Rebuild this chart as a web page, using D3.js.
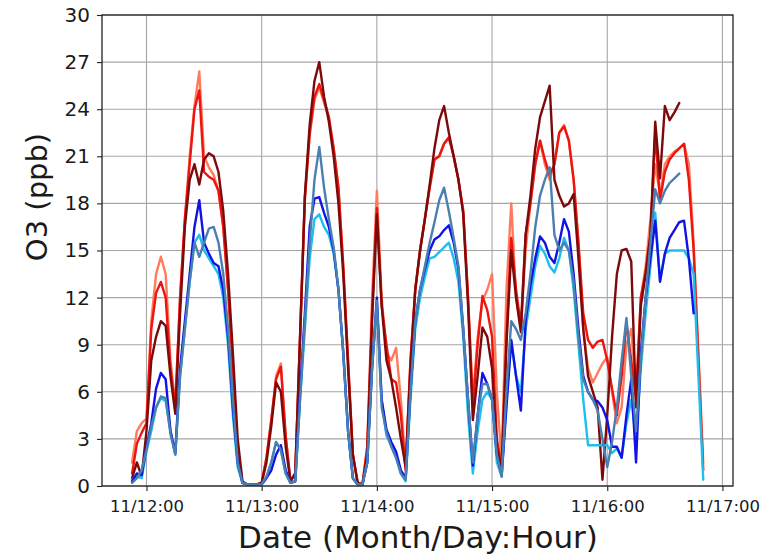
<!DOCTYPE html>
<html>
<head>
<meta charset="utf-8">
<script src="https://cdn.jsdelivr.net/npm/d3@7"></script>
<style>
  body { margin: 0; background: #fff; }
  svg { display: block; }
  text { font-family: "DejaVu Sans", sans-serif; fill: #1a1a1a; }
</style>
</head>
<body>
<svg id="chart" width="779" height="555"></svg>
<script>
// Hourly O3 samples (ppb), first sample at 11/11 21:00, last at 11/16 20:00
const firstSampleUtc = Date.UTC(2019, 10, 11, 21);

const o3DarkRed = [
  0.5, 1.5, 0.6, 3.5, 8.0, 9.5, 10.5, 10.2, 7.0, 4.6,
  11.0, 16.5, 19.5, 20.5, 19.2, 20.8, 21.2, 21.0, 20.0, 17.5,
  13.5, 8.5, 3.0, 0.3, 0.1, 0.1, 0.1, 0.2, 1.5, 3.8,
  6.6, 6.0, 2.5, 0.3, 0.8, 9.5, 18.5, 23.0, 25.8, 27.0,
  24.8, 23.2, 21.0, 18.0, 13.5, 7.5, 2.0, 0.2, 0.1, 2.0,
  10.5, 17.3, 11.5, 8.0, 6.8, 5.0, 3.0, 1.2, 7.5, 12.5,
  15.0, 17.0, 19.2, 21.5, 23.3, 24.2, 22.5, 21.0, 19.5, 17.3,
  11.5, 4.2, 7.0, 10.1, 9.5, 7.5, 2.5, 1.0, 9.0, 15.0,
  12.0, 9.8, 16.0, 18.5, 21.5, 23.5, 24.5, 25.5, 19.5, 18.5,
  17.8, 18.0, 18.6, 14.5, 10.0, 7.0, 6.0, 5.0, 0.4, 4.5,
  9.5, 13.5, 15.0, 15.1, 14.3, 5.0, 11.5, 13.5, 16.0, 23.2,
  19.6, 24.2, 23.3, 23.8, 24.4, null, null, null, null, null
];

const o3Red = [
  0.8, 2.7, 3.4, 4.0, 10.0, 12.3, 13.0, 12.0, 7.5, 5.0,
  12.0, 17.0, 20.5, 24.0, 25.2, 20.0, 19.7, 19.5, 18.8, 16.5,
  12.5, 7.5, 2.2, 0.2, 0.1, 0.1, 0.1, 0.2, 1.8, 4.2,
  6.8, 7.6, 3.2, 0.3, 0.8, 9.5, 18.3, 22.5, 24.8, 25.6,
  24.6, 23.5, 21.5, 19.0, 14.0, 8.0, 2.0, 0.2, 0.1, 2.5,
  11.0, 17.7, 11.5, 9.0, 6.8, 6.6, 4.5, 1.0, 8.0, 12.5,
  15.0, 17.0, 19.0, 20.8, 21.0, 21.8, 22.2, 21.0, 19.5, 17.5,
  12.0, 5.0, 9.0, 12.1, 11.2, 9.5, 3.0, 1.2, 9.5, 15.8,
  12.5, 10.2, 16.0, 18.0, 20.5, 22.0, 20.8, 19.8, 20.5, 22.5,
  22.9, 22.0, 19.5, 15.5, 11.0, 9.3, 8.8, 9.2, 9.3, 8.0,
  6.2, 4.5, 7.0, 10.4, 8.0, 5.5, 12.0, 13.6, 16.0, 22.5,
  18.2, 20.0, 20.8, 21.2, 21.5, 21.8, 19.5, 15.0, 8.0, 1.0
];

const o3Coral = [
  1.5, 3.5, 4.0, 4.3, 10.5, 13.5, 14.6, 13.5, 8.0, 5.2,
  12.0, 17.0, 21.0, 24.2, 26.4, 21.0, 20.3, 19.8, 18.8, 16.5,
  12.5, 7.5, 2.2, 0.2, 0.1, 0.1, 0.1, 0.2, 1.8, 4.2,
  7.0, 7.8, 3.2, 0.3, 0.8, 9.5, 18.3, 22.3, 24.6, 25.4,
  24.4, 23.4, 21.5, 19.0, 14.0, 8.0, 2.0, 0.2, 0.1, 2.5,
  12.0, 18.8, 12.0, 8.5, 8.0, 8.8, 5.5, 1.2, 8.0, 12.5,
  15.0, 17.0, 19.0, 20.8, 21.0, 21.8, 22.2, 21.0, 19.5, 17.5,
  12.0, 5.5, 9.5, 11.8, 12.5, 13.5, 6.0, 1.5, 12.5, 18.0,
  12.0, 10.0, 15.0, 18.0, 20.5, 22.0, 20.5, 19.5, 20.5, 22.5,
  23.0, 22.0, 19.5, 15.5, 10.0, 7.5, 6.6, 7.2, 7.8, 8.2,
  6.0, 4.0, 5.0, 9.0, 10.0, 6.0, 12.0, 14.0, 17.0, 20.5,
  18.5, 20.5, 21.0, 21.3, 21.5, 21.8, 20.5, 15.5, 8.5, 1.5
];

const o3Blue = [
  0.3, 0.8, 0.7, 2.5, 4.0, 6.2, 7.2, 6.8, 3.5, 2.1,
  7.5, 10.5, 13.5, 16.5, 18.2, 15.5, 14.8, 14.2, 14.0, 12.5,
  9.5, 5.0, 1.5, 0.2, 0.1, 0.1, 0.1, 0.1, 0.5, 1.0,
  2.0, 2.6, 1.0, 0.2, 0.3, 6.0, 11.0, 16.5, 18.3, 18.4,
  17.4, 16.5, 15.0, 12.5, 8.5, 3.5, 0.5, 0.1, 0.1, 1.5,
  7.5, 12.0, 5.5, 3.6, 2.8, 2.2, 1.0, 0.5, 6.0, 10.5,
  12.5, 13.8, 15.0, 15.7, 15.9, 16.3, 16.6, 15.5, 13.8, 10.0,
  5.5, 1.3, 4.5, 7.2, 6.5, 5.5, 2.0, 0.7, 5.0, 9.3,
  7.0, 4.8, 10.5, 12.8, 14.5, 15.9, 15.5, 14.6, 14.2, 15.5,
  17.0, 16.2, 13.5, 10.0, 7.0, 6.0, 5.5, 5.4, 5.0, 4.2,
  2.5, 2.5, 1.8, 4.5, 6.8, 1.5, 8.5, 12.0, 14.5, 16.9,
  13.0, 14.8, 15.8, 16.3, 16.8, 16.9, 14.5, 11.0, null, null
];

const o3SteelBlue = [
  0.2, 0.5, 1.0, 2.3, 3.8, 5.0, 5.7, 5.6, 3.3, 2.0,
  7.0, 10.0, 13.0, 15.5, 14.6, 15.5, 16.4, 16.5, 15.5, 13.5,
  10.0, 5.5, 1.5, 0.2, 0.1, 0.1, 0.1, 0.1, 0.6, 1.5,
  2.8, 2.3, 0.8, 0.2, 0.3, 5.5, 10.5, 15.5, 19.5, 21.6,
  19.0, 17.0, 15.2, 12.5, 8.5, 3.5, 0.5, 0.1, 0.1, 1.5,
  7.5, 11.8, 5.0, 3.4, 2.5, 1.8, 0.8, 0.4, 6.0, 10.5,
  12.5, 14.0, 15.5, 16.8, 18.2, 19.0, 17.5, 15.8, 14.0, 10.0,
  5.5, 1.5, 4.5, 6.5, 6.5, 5.5, 2.0, 0.6, 6.0, 10.5,
  10.0, 9.3, 11.0, 13.5, 16.5, 18.5, 19.5, 20.3, 16.0, 15.0,
  15.5, 15.0, 13.0, 9.5, 6.8, 6.0, 5.5, 4.8, 3.0, 1.2,
  2.8, 5.0, 8.0, 10.7, 7.0, 3.5, 8.0, 12.0, 15.5, 18.9,
  18.0, 18.8, 19.3, 19.6, 19.9, null, null, null, null, null
];

const o3Cyan = [
  0.4, 0.6, 0.5, 2.2, 3.5, 5.0, 5.6, 5.4, 3.5, 2.0,
  7.0, 10.0, 13.0, 15.5, 16.0, 15.0, 14.5, 14.0, 13.5, 12.0,
  9.0, 4.5, 1.2, 0.2, 0.1, 0.1, 0.1, 0.1, 0.6, 1.5,
  2.8, 2.3, 0.8, 0.2, 0.3, 5.5, 10.0, 14.5, 17.0, 17.3,
  16.5, 16.0, 14.8, 12.5, 8.5, 3.5, 0.5, 0.1, 0.1, 1.5,
  7.5, 11.5, 5.5, 3.2, 2.6, 1.8, 0.8, 0.3, 5.5, 10.0,
  12.0, 13.3, 14.5, 14.6, 14.9, 15.2, 15.5, 14.5, 13.0, 9.5,
  4.5, 0.8, 3.5, 5.5, 6.0, 5.5, 1.5, 0.6, 5.5, 9.2,
  7.0, 6.0, 10.0, 12.0, 14.0, 15.3, 14.8, 14.0, 13.6, 14.5,
  15.8, 15.0, 12.5, 9.0, 5.5, 2.6, 2.6, 2.6, 2.6, 2.6,
  2.1, 2.4, 1.8, 4.0, 5.5, 3.0, 7.5, 11.0, 14.0, 17.4,
  13.1, 14.8, 15.0, 15.0, 15.0, 15.0, 14.5, 13.5, 7.0, 0.4
];

const yTickValues = [0, 3, 6, 9, 12, 15, 18, 21, 24, 27, 30];
const xTickLabels = ["11/12:00", "11/13:00", "11/14:00", "11/15:00", "11/16:00", "11/17:00"];
const xTickDates = [12, 13, 14, 15, 16, 17].map(d => new Date(Date.UTC(2019, 10, d, 0)));

// drawing order: warm lines underneath, cool lines on top
const seriesList = [
  { values: o3Coral,     color: "#ff7b5c" },
  { values: o3Red,       color: "#ee1410" },
  { values: o3DarkRed,   color: "#7d0a0a" },
  { values: o3Cyan,      color: "#1cc0ee" },
  { values: o3Blue,      color: "#1212e6" },
  { values: o3SteelBlue, color: "#4a80b0" }
];

const times = o3Red.map((_, i) => new Date(firstSampleUtc + i * 3600e3));

const plot = { left: 102, right: 733, top: 15, bottom: 486 };
const svg = d3.select("#chart");
svg.append("rect").attr("width", 779).attr("height", 555).attr("fill", "#fff");

const x = d3.scaleUtc()
  .domain([new Date(Date.UTC(2019, 10, 11, 14, 44)), new Date(Date.UTC(2019, 10, 17, 2, 12))])
  .range([plot.left, plot.right]);
const y = d3.scaleLinear().domain([0, 30]).range([plot.bottom, plot.top]);

// grid
const grid = svg.append("g").attr("stroke", "#a6a6a6").attr("stroke-width", 1.1);
grid.selectAll("line.gy").data(yTickValues).join("line")
  .attr("x1", plot.left).attr("x2", plot.right)
  .attr("y1", d => y(d)).attr("y2", d => y(d));
grid.selectAll("line.gx").data(xTickDates).join("line")
  .attr("x1", d => x(d)).attr("x2", d => x(d))
  .attr("y1", plot.top).attr("y2", plot.bottom);

// series
svg.append("clipPath").attr("id", "plotClip").append("rect")
  .attr("x", plot.left).attr("y", plot.top)
  .attr("width", plot.right - plot.left).attr("height", plot.bottom - plot.top);

const line = d3.line()
  .defined(d => d != null)
  .x((d, i) => x(times[i]))
  .y(d => y(d));

svg.append("g").attr("clip-path", "url(#plotClip)")
  .selectAll("path").data(seriesList).join("path")
  .attr("d", s => line(s.values))
  .attr("fill", "none")
  .attr("stroke", s => s.color)
  .attr("stroke-width", 2.4)
  .attr("stroke-linejoin", "round")
  .attr("stroke-linecap", "round");

// axes
const xAxis = d3.axisBottom(x).tickValues(xTickDates)
  .tickFormat((d, i) => xTickLabels[i]).tickSize(5).tickPadding(9);
const yAxis = d3.axisLeft(y).tickValues(yTickValues)
  .tickFormat(d3.format("d")).tickSize(5).tickPadding(7);

const gx = svg.append("g").attr("transform", `translate(0,${plot.bottom})`).call(xAxis);
gx.select(".domain").remove();
gx.selectAll("line").attr("stroke", "#222").attr("stroke-width", 1.1);
gx.selectAll("text").attr("font-size", 16.5).attr("font-family", "DejaVu Sans").attr("fill", "#1a1a1a");

const gy = svg.append("g").attr("transform", `translate(${plot.left},0)`).call(yAxis);
gy.select(".domain").remove();
gy.selectAll("line").attr("stroke", "#222").attr("stroke-width", 1.1);
gy.selectAll("text").attr("font-size", 20).attr("font-family", "DejaVu Sans").attr("fill", "#1a1a1a");

// frame
svg.append("rect")
  .attr("x", plot.left).attr("y", plot.top)
  .attr("width", plot.right - plot.left).attr("height", plot.bottom - plot.top)
  .attr("fill", "none").attr("stroke", "#222").attr("stroke-width", 1.3);

// axis titles
svg.append("text")
  .attr("x", 418).attr("y", 548)
  .attr("text-anchor", "middle").attr("font-size", 31)
  .text("Date (Month/Day:Hour)");

svg.append("text")
  .attr("transform", "translate(47,197) rotate(-90)")
  .attr("text-anchor", "middle").attr("font-size", 29)
  .text("O3 (ppb)");
</script>
</body>
</html>
